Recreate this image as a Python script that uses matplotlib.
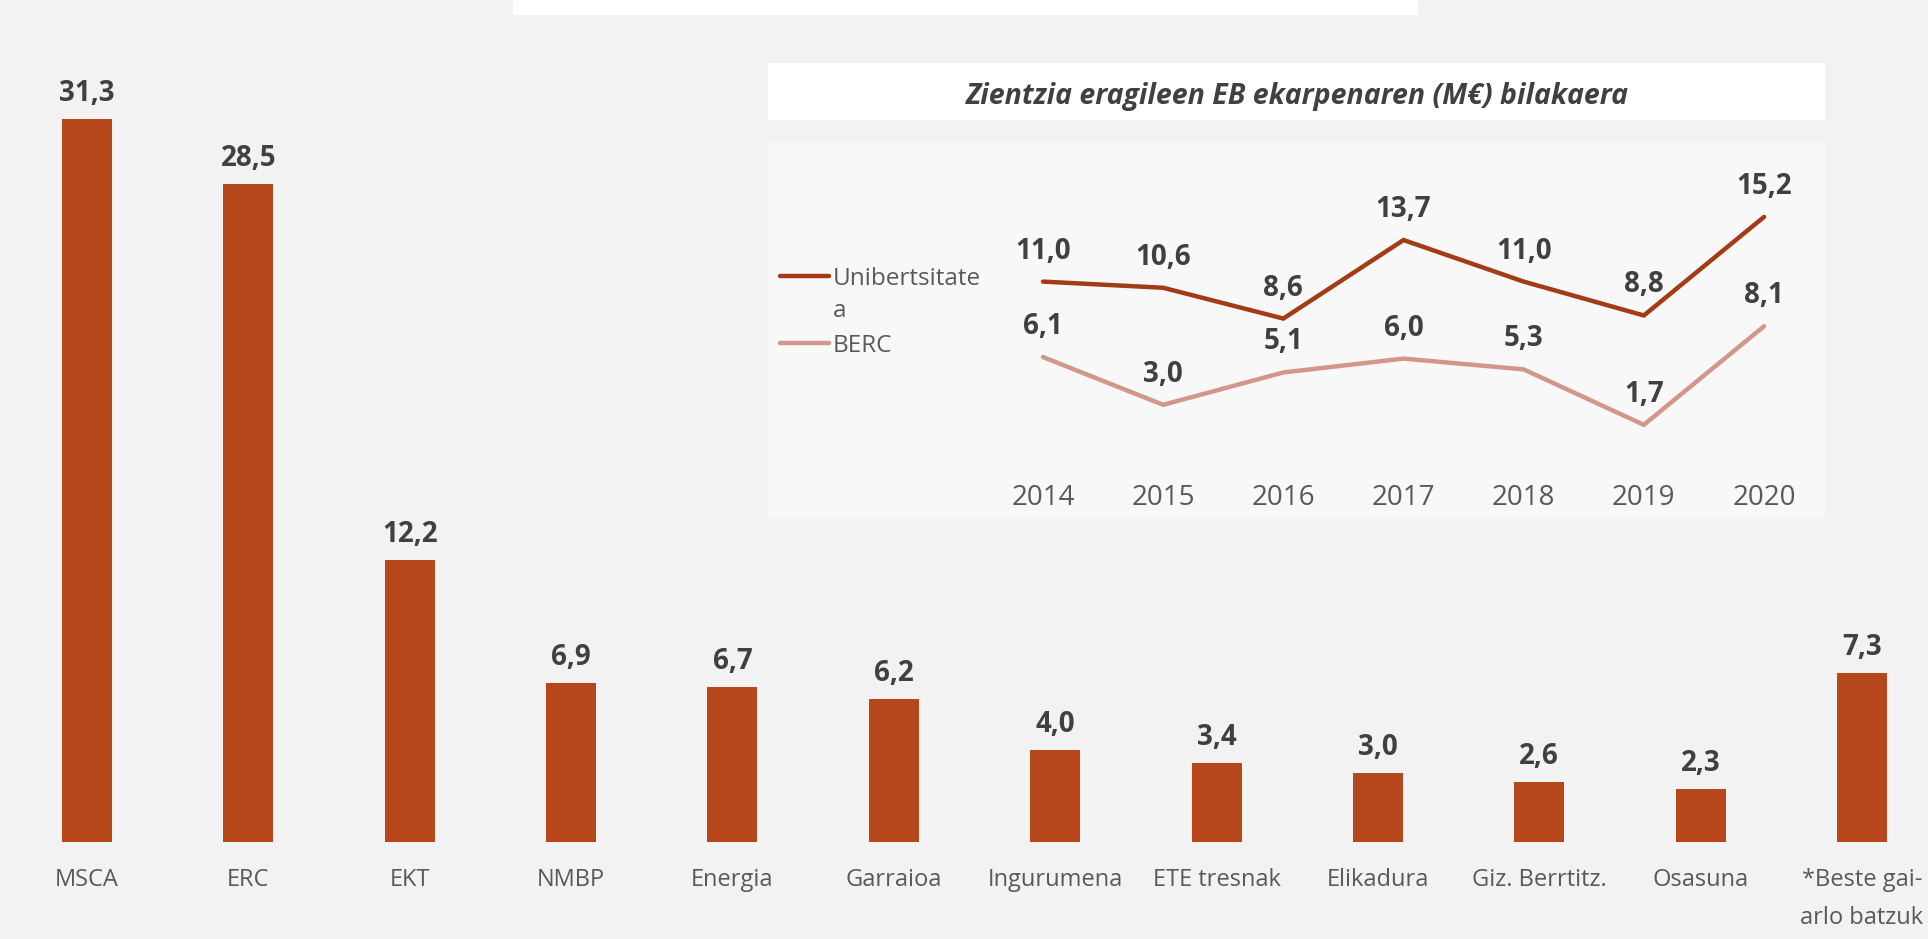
import matplotlib
matplotlib.use("Agg")
import matplotlib.pyplot as plt
from matplotlib.patches import Rectangle
from matplotlib.lines import Line2D

plt.rcParams["font.family"] = ["Open Sans", "DejaVu Sans"]

# Main bar chart data (M€)
categories = ["MSCA", "ERC", "EKT", "NMBP", "Energia", "Garraioa", "Ingurumena",
              "ETE tresnak", "Elikadura", "Giz. Berrtitz.", "Osasuna",
              "*Beste gai-\narlo batzuk"]
values = [31.3, 28.5, 12.2, 6.9, 6.7, 6.2, 4.0, 3.4, 3.0, 2.6, 2.3, 7.3]

# Inset line chart data
years = ["2014", "2015", "2016", "2017", "2018", "2019", "2020"]
unibertsitatea = [11.0, 10.6, 8.6, 13.7, 11.0, 8.8, 15.2]
berc = [6.1, 3.0, 5.1, 6.0, 5.3, 1.7, 8.1]
series_names = ["Unibertsitate\na", "BERC"]
inset_title = "Zientzia eragileen EB ekarpenaren (M€) bilakaera"

BG = "#F2F2F2"
BAR = "#B5471A"
UNI = "#A33B14"
BERC = "#D3968B"
VAL = "#404040"
LAB = "#595959"

W, H = 1928, 939
fig = plt.figure(figsize=(W / 100, H / 100), dpi=100, facecolor=BG)


def fx(px):
    return px / W


def fy(py):
    return (H - py) / H


# white header strip at the top
fig.add_artist(Rectangle((fx(513), fy(15)), fx(1418) - fx(513), fy(0) - fy(15),
                         transform=fig.transFigure, facecolor="white",
                         edgecolor="none", zorder=0))

# ---- main bar chart ----
base_px = 842
unit_px = 23.1
step_px = 161.36
x0_px = 87
ax = fig.add_axes([0, fy(base_px), 1, base_px / H])
ax.set_facecolor("none")
xs = list(range(len(categories)))
ax.bar(xs, values, width=50 / step_px, color=BAR, zorder=2)
ax.set_xlim(-x0_px / step_px, (W - x0_px) / step_px)
ax.set_ylim(0, base_px / unit_px)
ax.axis("off")

for x, v in zip(xs, values):
    ax.annotate(f"{v:.1f}".replace(".", ","), (x, v), xytext=(0, 13),
                textcoords="offset points", ha="center", va="baseline",
                fontsize=20, fontweight="bold", color=VAL)

for x, c in zip(xs, categories):
    ax.text(x, -(868.5 - base_px) / unit_px, c, ha="center", va="top",
            fontsize=17, color=LAB, linespacing=1.75, clip_on=False)

# ---- inset: title box ----
fig.add_artist(Rectangle((fx(768), fy(120)), fx(1825) - fx(768), fy(63) - fy(120),
                         transform=fig.transFigure, facecolor="white",
                         edgecolor="none", zorder=1))
fig.text(fx(1297), fy(104), inset_title, ha="center", va="baseline",
         fontsize=20.5, fontweight="bold", fontstyle="italic", color=VAL, zorder=3)

# ---- inset: line chart ----
L, R, T, B = 768, 1825, 143, 517
zero_px = 451
u_px = 15.4
yr_step = 120.17
yr0_px = 1043
iax = fig.add_axes([fx(L), fy(B), (R - L) / W, (B - T) / H])
iax.set_facecolor("#F8F8F8")
for s in iax.spines.values():
    s.set_visible(False)
iax.set_xticks([])
iax.set_yticks([])
iax.set_xlim(-(yr0_px - L) / yr_step, (R - yr0_px) / yr_step)
iax.set_ylim(-(B - zero_px) / u_px, (zero_px - T) / u_px)

ix = list(range(len(years)))
for data, col in ((unibertsitatea, UNI), (berc, BERC)):
    iax.plot(ix, data, color=col, lw=3.2, solid_capstyle="round",
             solid_joinstyle="miter")
    for x, v in zip(ix, data):
        iax.annotate(f"{v:.1f}".replace(".", ","), (x, v), xytext=(0, 16.6),
                     textcoords="offset points", ha="center", va="baseline",
                     fontsize=20, fontweight="bold", color=VAL)

for x, y in zip(ix, years):
    iax.text(x, -(505 - zero_px) / u_px, y, ha="center", va="baseline",
             fontsize=20, color=LAB)

# legend drawn at the left of the inset
for (name, col, ly) in ((series_names[0], UNI, 276), (series_names[1], BERC, 343)):
    fig.add_artist(Line2D([fx(780), fx(829)], [fy(ly), fy(ly)], color=col, lw=3.2,
                          solid_capstyle="round", transform=fig.transFigure,
                          zorder=3))
    top_px = ly + 9 - 0.76 * 24.3
    fig.text(fx(833), fy(top_px), name, ha="left", va="top", fontsize=17.5,
             color=LAB, linespacing=1.47, zorder=3)

fig.savefig("out.png", dpi=100, facecolor=BG)
